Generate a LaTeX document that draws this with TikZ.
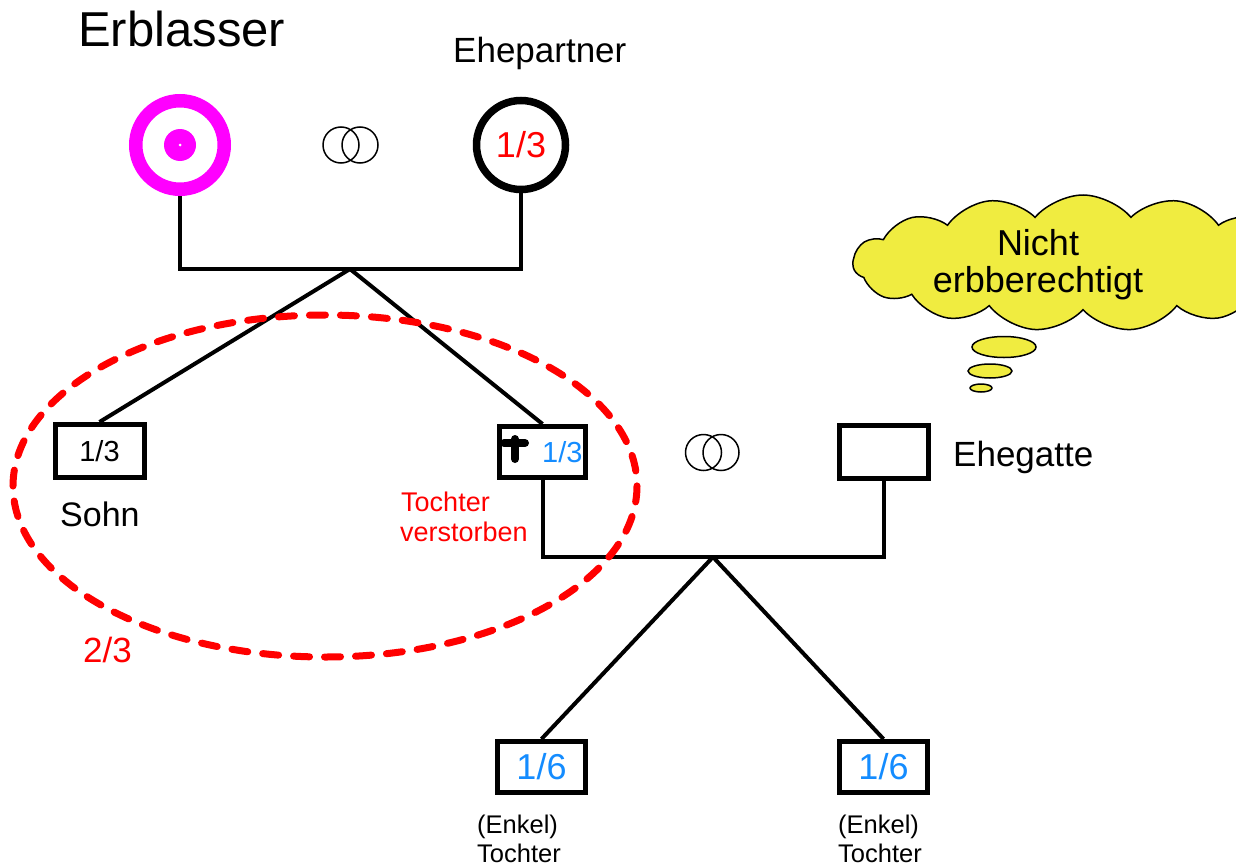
\documentclass[tikz,border=0pt]{standalone}
\usepackage{fontspec}
\setmainfont{Liberation Sans}
\usetikzlibrary{shapes.symbols,shapes.geometric}
\definecolor{myblue}{RGB}{20,140,255}
\definecolor{cloudy}{RGB}{240,236,64}
\definecolor{mymag}{RGB}{255,0,255}
\newcommand\fsz[1]{\fontsize{#1}{#1}\selectfont}
\begin{document}
\begin{tikzpicture}[x=1pt,y=-1pt,
  conn/.style={line width=4pt},
  box/.style={draw, line width=5pt, minimum width=89pt, minimum height=53pt, inner sep=0pt},
  ring/.style={circle, draw, line width=1.5pt, minimum size=36pt, inner sep=0pt},
  lbl/.style={inner sep=0pt, anchor=base west},
  bubble/.style={draw, line width=1.5pt, fill=cloudy}]
\useasboundingbox (0,0) rectangle (1236,867);

% persons
\node[circle, draw=mymag, line width=13.5pt, minimum size=88.5pt, inner sep=0pt] (erb) at (180,145) {};
\node[circle, fill=mymag, minimum size=32pt, inner sep=0pt] (erbdot) at (180,145) {};
\node[circle, fill=white, minimum size=3pt, inner sep=0pt] (erbc) at (180,145) {};
\node[circle, draw, line width=7.5pt, minimum size=89pt, inner sep=0pt, text=red, font=\fsz{36}] (ehe) at (521,145) {1/3};

\node[ring] (r1a) at (341,145) {};
\node[ring] (r1b) at (360,145) {};
\node[ring] (r2a) at (703.5,452.5) {};
\node[ring] (r2b) at (721,452.5) {};

\node[box, font=\fsz{29}] (sohn) at (99.5,451) {1/3};
\node[box, minimum width=86pt, minimum height=51pt] (toch) at (542.5,452) {};
\node[box] (gatte) at (884,452) {};
\node[box, minimum width=88pt, minimum height=51pt, text=myblue, font=\fsz{36}] (enk1) at (541.5,767) {1/6};
\node[box, minimum width=88pt, minimum height=51pt, text=myblue, font=\fsz{36}] (enk2) at (883.5,767) {1/6};

% cross in the daughter's box
\draw[line width=8pt, line cap=round] (515,439) -- (515,459);
\draw[line width=8pt, line cap=round] (504,443) -- (525,443);
\node[lbl, text=myblue, font=\fsz{29}] (tval) at (542,462) {1/3};

% connectors
\coordinate (top) at (350,269);
\coordinate (bot) at (713,557);
\draw[conn] (erb.south) |- (top) -| (ehe.south);
\draw[conn] (top) -- (sohn.north);
\draw[conn] (top) -- (toch.north);
\draw[conn] (toch.south) |- (bot) -| (gatte.south);
\draw[conn] (bot) -- (enk1.north);
\draw[conn] (bot) -- (enk2.north);

% dashed ellipse
\draw[red, line width=7pt, dash pattern=on 16pt off 15pt, line cap=round] (325,486) ellipse [x radius=312, y radius=171];

% labels
\node[lbl, font=\fsz{49}] (erbl) at (78,47) {Erblasser};
\node[lbl, font=\fsz{35}] (ehel) at (453,63) {Ehepartner};
\node[lbl, font=\fsz{34}] (sohnl) at (60,526) {Sohn};
\node[lbl, font=\fsz{35}] (gattel) at (953,466) {Ehegatte};
\node[lbl, text=red, font=\fsz{27}] (tv1) at (401,511) {Tochter};
\node[lbl, text=red, font=\fsz{27}] (tv2) at (400,541) {verstorben};
\node[lbl, text=red, font=\fsz{35}] (zwei) at (83,662) {2/3};
\node[lbl, font=\fsz{25.5}] (e1a) at (477,833) {(Enkel)};
\node[lbl, font=\fsz{25.5}] (e1b) at (477,862) {Tochter};
\node[lbl, font=\fsz{25.5}] (e2a) at (838,833) {(Enkel)};
\node[lbl, font=\fsz{25.5}] (e2b) at (838,862) {Tochter};

% thought cloud
\node[cloud, bubble, cloud puffs=15, cloud puff arc=100, minimum width=460pt, minimum height=136pt, inner sep=0pt] (cloud) at (1083,263) {};
\node[bubble, ellipse, minimum width=64pt, minimum height=21pt, inner sep=0pt] (b1) at (1004,347) {};
\node[bubble, ellipse, minimum width=44pt, minimum height=14pt, inner sep=0pt] (b2) at (990,371) {};
\node[bubble, ellipse, minimum width=22pt, minimum height=8pt, inner sep=0pt] (b3) at (981,388) {};
\node[inner sep=0pt, font=\fsz{36}, align=center, anchor=base] (ct1) at (1038,255) {Nicht};
\node[inner sep=0pt, font=\fsz{36}, align=center, anchor=base] (ct2) at (1038,292) {erbberechtigt};
\end{tikzpicture}
\end{document}
